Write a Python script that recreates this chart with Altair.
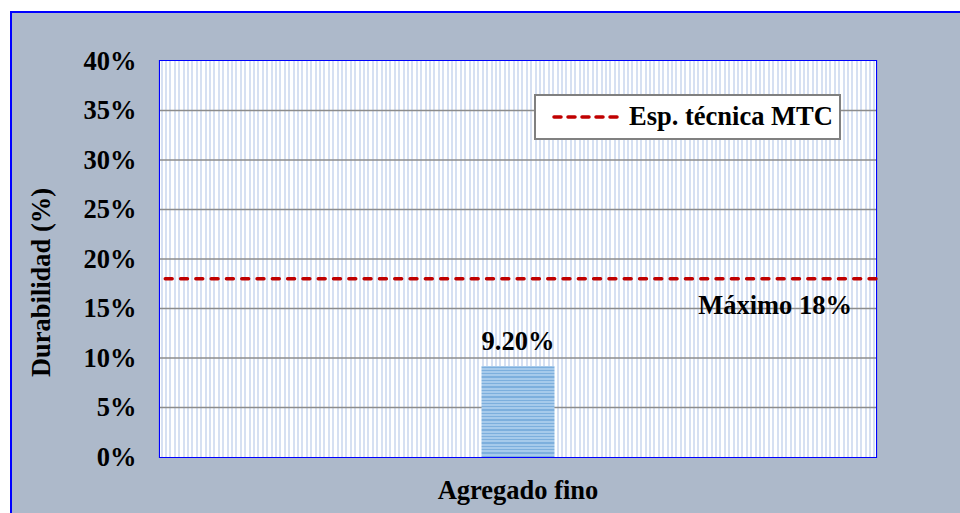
import altair as alt
import pandas as pd

# --- data -------------------------------------------------------------
categorias = ["Agregado fino"]
durabilidad = [0.092]          # durability loss, as a fraction
limite_mtc = [0.18]            # MTC technical specification (maximum)
serie_limite = ["Esp. técnica MTC"]
ticks_y = [0.0, 0.05, 0.10, 0.15, 0.20, 0.25, 0.30, 0.35, 0.40]
etiqueta_limite = ["Máximo 18%"]

W, H = 716, 396
FONT = "Liberation Serif"
FS = 26.5
Y_DOMAIN = [0, 0.40]
ROJO = "#C00000"


def striped(total, period, width, bg, fg, vertical=False):
    """Linear gradient made of hard-edged stripes."""
    stops = [{"offset": 0, "color": bg}]
    pos = 0.6
    while pos < total:
        a = pos / total
        b = min(pos + width, total) / total
        stops += [
            {"offset": a, "color": bg},
            {"offset": a, "color": fg},
            {"offset": b, "color": fg},
            {"offset": b, "color": bg},
        ]
        pos += period
    stops.append({"offset": 1, "color": bg})
    if vertical:
        return {"gradient": "linear", "x1": 0, "x2": 0, "y1": 0, "y2": 1, "stops": stops}
    return {"gradient": "linear", "x1": 0, "x2": 1, "y1": 0, "y2": 0, "stops": stops}


barras = pd.DataFrame({"categoria": categorias, "durabilidad": durabilidad})
limite = pd.DataFrame({"limite": limite_mtc, "serie": serie_limite, "texto": etiqueta_limite})
rejilla = pd.DataFrame({"t": ticks_y})
uno = alt.Data(values=[{}])

yscale = alt.Scale(domain=Y_DOMAIN, nice=False, zero=True)
yaxis = alt.Axis(
    values=ticks_y, format=".0%", grid=False, ticks=False, domain=False,
    labelFont=FONT, labelFontSize=FS, labelFontWeight="bold",
    labelColor="black", labelPadding=24,
    titleFont=FONT, titleFontSize=FS, titleFontWeight="bold",
    titleColor="black", titleAngle=270, titleAlign="center",
    titleBaseline="middle", titleX=-119, titleY=221,
)
YTITLE = "Durabilidad (%)"

# --- page frame: white margin, blue top/left border --------------------
margen_sup = alt.Chart(uno).mark_rect(color="white").encode(
    x=alt.value(-160), x2=alt.value(W + 84), y=alt.value(-61), y2=alt.value(-50)
)
margen_izq = alt.Chart(uno).mark_rect(color="white").encode(
    x=alt.value(-160), x2=alt.value(-150), y=alt.value(-61), y2=alt.value(H + 56)
)
borde_sup = alt.Chart(uno).mark_rule(color="#0000FF", strokeWidth=2).encode(
    x=alt.value(-150), x2=alt.value(W + 84), y=alt.value(-49)
)
borde_izq = alt.Chart(uno).mark_rule(color="#0000FF", strokeWidth=2).encode(
    x=alt.value(-149), y=alt.value(-50), y2=alt.value(H + 56)
)

# --- plot background with light vertical stripes ----------------------
fondo = alt.Chart(uno).mark_rect(
    fill=striped(W, 4.4, 2.0, "#FFFFFF", "#D6E0F2")
).encode(x=alt.value(0), x2=alt.value(W), y=alt.value(0), y2=alt.value(H))

# --- horizontal gridlines (carry the y axis) --------------------------
grid = alt.Chart(rejilla).transform_filter(
    "datum.t > 0 && datum.t < 0.4"
).mark_rule(color="#8C8C8C", strokeWidth=1.5).encode(
    y=alt.Y("t:Q", scale=yscale, axis=yaxis, title=YTITLE)
)

# --- MTC limit line ---------------------------------------------------
linea = alt.Chart(limite).mark_rule(
    color=ROJO, strokeWidth=3.4, strokeDash=[7, 8.3], strokeCap="round"
).encode(y=alt.Y("limite:Q", scale=yscale, axis=yaxis, title=YTITLE))

texto_limite = alt.Chart(limite).mark_text(
    font=FONT, fontSize=FS, fontWeight="bold", color="black",
    align="right", baseline="alphabetic", dy=35
).encode(
    x=alt.value(692),
    y=alt.Y("limite:Q", scale=yscale, axis=yaxis, title=YTITLE),
    text="texto:N",
)

# --- legend box -------------------------------------------------------
ley_caja = alt.Chart(uno).mark_rect(fill="white", stroke="#808080", strokeWidth=2).encode(
    x=alt.value(375), x2=alt.value(680), y=alt.value(34), y2=alt.value(78)
)
ley_linea = alt.Chart(limite).mark_rule(
    color=ROJO, strokeWidth=3.5, strokeDash=[7, 7], strokeCap="round"
).encode(x=alt.value(394), x2=alt.value(462), y=alt.value(56))
ley_texto = alt.Chart(limite).mark_text(
    font=FONT, fontSize=FS, fontWeight="bold", color="black",
    align="left", baseline="middle"
).encode(x=alt.value(469), y=alt.value(56), text="serie:N")

# --- bar --------------------------------------------------------------
xenc = alt.X(
    "categoria:N",
    title=None,
    axis=alt.Axis(
        labelAngle=0, labelFont=FONT, labelFontSize=FS, labelFontWeight="bold",
        labelColor="black", labelPadding=20, ticks=False, domain=False,
    ),
)

barra = alt.Chart(barras).mark_bar(
    size=73, color=striped(91, 3.3, 1.3, "#A6CAEB", "#7DAFDD", vertical=True)
).encode(
    x=xenc,
    y=alt.Y("durabilidad:Q", scale=yscale, axis=yaxis, title=YTITLE),
)

etiqueta = alt.Chart(barras).mark_text(
    font=FONT, fontSize=FS, fontWeight="bold", color="black",
    baseline="alphabetic", dy=-16
).encode(
    x=alt.X("categoria:N"),
    y=alt.Y("durabilidad:Q", scale=yscale, axis=yaxis, title=YTITLE),
    text=alt.Text("durabilidad:Q", format=".2%"),
)

chart = alt.layer(
    margen_sup, margen_izq, borde_sup, borde_izq, fondo, grid, linea, barra,
    etiqueta, texto_limite, ley_caja, ley_linea, ley_texto
).properties(
    width=W,
    height=H,
    padding={"left": 160, "top": 61, "right": 84, "bottom": 56},
    autosize=alt.AutoSizeParams(type="none"),
    background="#ADB9CA",
).configure_view(stroke="#0000FF", strokeWidth=2.2)

chart.save("out.html", embed_options={"renderer": "svg", "actions": False})
